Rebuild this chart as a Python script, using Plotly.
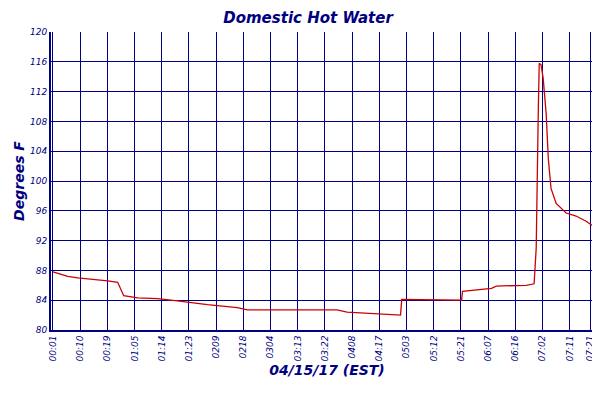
import plotly.graph_objects as go

x_vals = [0, 4.9, 8.2, 14.8, 18.1, 21.4, 22.4, 23.4, 28, 34.6, 41.2, 46.2, 51.1, 56, 61, 64.3, 70.9, 80.8, 87.4, 94, 97.3,
          102.2, 107.1, 113.7, 115, 115.4, 135.2, 135.5, 140.1, 145.1, 146.7, 156.6, 159.2, 159.9, 160.6, 160.9, 161.5,
          162.2, 163.2, 163.9, 164.8, 166.5, 169.8, 173.1, 176.4, 179.7, 182]
temps = [87.8, 87.2, 87.0, 86.8, 86.6, 86.4, 85.5, 84.6, 84.3, 84.2, 83.9, 83.6, 83.4, 83.2, 83.0, 82.7, 82.7, 82.7, 82.8,
         82.7, 82.4, 82.3, 82.2, 82.0, 82.0, 84.1, 84.0, 85.2, 85.4, 85.6, 85.9, 86.0, 86.2, 91.0, 109.8, 115.8, 115.6,
         113.8, 109.0, 103.0, 99.0, 97.0, 95.7, 95.3, 94.6, 93.7, 93.3]
tick_pos = [0, 9, 18, 27, 36, 45, 54, 63, 72, 81, 90, 99, 108, 117, 126, 135, 144, 153, 162, 171, 177.7, 180]
tick_labels = ["00:01", "00:10", "00:19", "01:05", "01:14", "01:23", "0209", "0218", "0304", "03:13", "03:22",
               "0408", "04:17", "0503", "05:12", "05:21", "06:07", "06:16", "07:02", "07:11", "07:21", "07:23"]
y_ticks = list(range(80, 121, 4))

navy = "#000080"
fnt = "DejaVu Sans"
fig = go.Figure(go.Scatter(x=x_vals, y=temps, mode="lines", line=dict(color="#cc0000", width=1.3),
                           name="Domestic Hot Water"))
fig.update_layout(
    width=600, height=400, margin=dict(l=43, r=5, t=24, b=78, autoexpand=False),
    plot_bgcolor="white", paper_bgcolor="white",
    title=dict(text="<b><i>Domestic Hot Water</i></b>", x=0.5, xanchor="center", y=0.99, yanchor="top",
               font=dict(family=fnt, size=15, color=navy), automargin=False),
    showlegend=True,
    legend=dict(orientation="h", x=0.5, xanchor="center", y=-0.2, yanchor="top",
                font=dict(family=fnt, size=11, color=navy, style="italic", weight="bold")),
    xaxis=dict(range=[-0.66, 182], tickmode="array", tickvals=tick_pos, ticktext=tick_labels, tickangle=-90,
               showgrid=True, gridcolor=navy, gridwidth=1, showline=True, linecolor=navy, linewidth=2,
               zeroline=False, automargin=False, tickfont=dict(family=fnt, size=9, color=navy, style="italic"),
               title=dict(text="<b><i>04/15/17 (EST)</i></b>", font=dict(family=fnt, size=14, color=navy), standoff=2)),
    yaxis=dict(range=[80, 120], tickvals=y_ticks, showgrid=True, gridcolor=navy, gridwidth=1,
               showline=True, linecolor=navy, linewidth=2, zeroline=False, automargin=False,
               tickfont=dict(family=fnt, size=9, color=navy, style="italic"),
               title=dict(text="<b><i>Degrees F</i></b>", font=dict(family=fnt, size=14, color=navy), standoff=2)),
)
fig.write_html("out.html")
